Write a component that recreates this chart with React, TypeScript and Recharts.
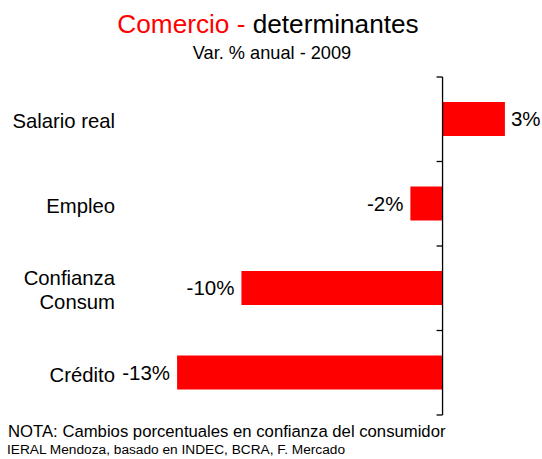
import { BarChart, Bar, XAxis, YAxis, ReferenceLine, LabelList } from 'recharts'

const CATEGORIES = ['Salario real', 'Empleo', 'Confianza Consum', 'Crédito']
const TICK_LINES = [['Salario real'], ['Empleo'], ['Confianza', 'Consum'], ['Crédito']]
const VALUES = [3.1, -1.6, -10.0, -13.2]
const X_DOMAIN = [-14, 4]

const FONT = '"Liberation Sans", Arial, sans-serif'
const RED = '#ff0000'
const LABEL_X = 115

const data = CATEGORIES.map((name, i) => ({ name, value: VALUES[i], lines: TICK_LINES[i] }))

function CategoryTick(props: any) {
  const { y, index } = props
  const lines: string[] = TICK_LINES[index] || [props.payload.value]
  const start = -((lines.length - 1) * 24) / 2 + 2
  return (
    <g>
      {lines.map((ln, i) => (
        <text
          key={ln}
          x={LABEL_X}
          y={y + start + i * 24}
          dy="0.35em"
          textAnchor="end"
          fontSize={20.3}
          fontFamily={FONT}
          fill="#000"
        >
          {ln}
        </text>
      ))}
    </g>
  )
}

// zero line with tick marks at the category boundaries
function ZeroAxis(props: any) {
  const { x1, y1, y2 } = props
  const n = CATEGORIES.length
  const step = (y2 - y1) / n
  return (
    <g>
      <line x1={x1} y1={y1} x2={x1} y2={y2} stroke="#000" strokeWidth={1.3} />
      {Array.from({ length: n + 1 }, (_, i) => (
        <line key={i} x1={x1 - 6} y1={y1 + i * step} x2={x1} y2={y1 + i * step} stroke="#000" strokeWidth={1.3} />
      ))}
    </g>
  )
}

function ValueLabel(props: any) {
  const { x, y, width, height, value } = props
  const left = Math.min(x, x + width)
  const right = Math.max(x, x + width)
  const pos = value >= 0
  return (
    <text
      x={pos ? right + 6 : left - 7}
      y={y + height / 2}
      dy="0.35em"
      textAnchor={pos ? 'start' : 'end'}
      fontSize={20.5}
      fontFamily={FONT}
      fill="#000"
    >
      {`${Math.round(value)}%`}
    </text>
  )
}

export default function App() {
  return (
    <div style={{ position: 'absolute', left: 0, top: 0, width: 542, height: 459, background: '#fff' }}>
      <BarChart
        width={542}
        height={459}
        data={data}
        layout="vertical"
        margin={{ top: 77, right: 19, bottom: 44, left: 0 }}
      >
        <XAxis type="number" domain={X_DOMAIN} hide allowDataOverflow />
        <YAxis
          type="category"
          dataKey="name"
          width={161}
          axisLine={false}
          tickLine={false}
          tick={<CategoryTick />}
          interval={0}
        />
        <Bar dataKey="value" fill={RED} barSize={34} isAnimationActive={false}>
          <LabelList dataKey="value" content={<ValueLabel />} />
        </Bar>
        <ReferenceLine x={0} shape={<ZeroAxis />} />
      </BarChart>
      <svg width={542} height={459} style={{ position: 'absolute', left: 0, top: 0, pointerEvents: 'none' }}>
        <text x={268} y={33} textAnchor="middle" fontSize={26.2} fontFamily={FONT}>
          <tspan fill={RED}>Comercio - </tspan>
          <tspan fill="#000">determinantes</tspan>
        </text>
        <text x={272} y={59} textAnchor="middle" fontSize={18.2} fontFamily={FONT} fill="#000">
          Var. % anual - 2009
        </text>
        <text x={8} y={437} fontSize={16.7} fontFamily={FONT} fill="#000">
          NOTA: Cambios porcentuales en confianza del consumidor
        </text>
        <text x={7} y={454} fontSize={13.7} fontFamily={FONT} fill="#000">
          IERAL Mendoza, basado en INDEC, BCRA, F. Mercado
        </text>
      </svg>
    </div>
  )
}
